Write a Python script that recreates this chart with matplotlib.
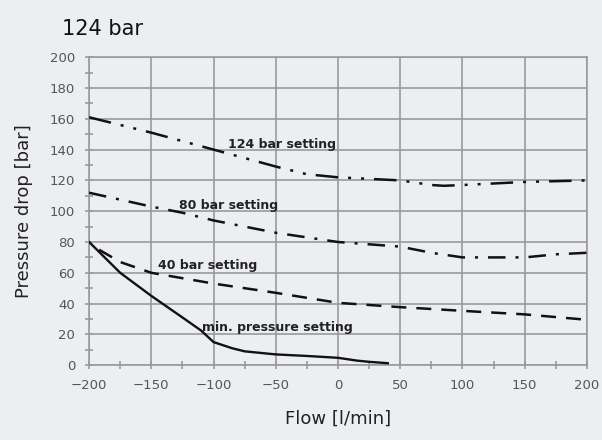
import matplotlib.pyplot as plt
import matplotlib.ticker as mticker

BG     = "#ECEEF1"
GRID_C = "#9A9A9A"
TICK_C = "#555555"
LINE_C = "#111111"

# ── Data ─────────────────────────────────────────────────────────────────────
flow_124 = [-200, -150, -100, -50, -25, 0, 25, 50, 75, 85, 100, 125, 150, 200]
p_124    = [161, 151, 140, 129, 124, 122, 121, 120, 117, 116.5, 117, 118, 119, 120]

flow_80 = [-200, -150, -125, -100, -50, 0, 50, 75, 100, 150, 175, 200]
p_80    = [112, 103, 99, 94, 86, 80, 77, 73, 70, 70, 72, 73]

flow_40 = [-192, -175, -150, -100, -50, 0, 50, 100, 150, 200]
p_40    = [75, 67, 60, 53, 47, 40.5, 37.7, 35.3, 33, 29.5]

flow_min = [-200, -190, -175, -150, -125, -110, -100, -85, -75, -50, -25, 0, 15, 25, 40]
p_min    = [80, 72, 60, 45, 31, 22.5, 15, 11, 9, 7, 6, 4.8, 3, 2.2, 1.3]

labels = ["124 bar setting", "80 bar setting", "40 bar setting", "min. pressure setting"]
label_x = [-88, -128, -145, -109]
label_y = [143.5, 104, 65, 24.7]

# ── Figure ───────────────────────────────────────────────────────────────────
fig = plt.figure(figsize=(6.02, 4.40), dpi=100)
fig.patch.set_facecolor(BG)
ax = fig.add_axes([0.148, 0.170, 0.827, 0.700])
ax.set_facecolor(BG)

ax.plot(flow_124, p_124, color=LINE_C, linewidth=1.8,
        dashes=[9, 4, 1.2, 4, 1.2, 4], zorder=3)
ax.plot(flow_80, p_80, color=LINE_C, linewidth=1.8,
        dashes=[7, 4, 1.2, 4], zorder=3)
ax.plot(flow_40, p_40, color=LINE_C, linewidth=1.8,
        dashes=[6, 4], zorder=3)
ax.plot(flow_min, p_min, color=LINE_C, linewidth=1.7, zorder=3)

for txt, lx, ly in zip(labels, label_x, label_y):
    ax.text(lx, ly, txt, fontsize=9, fontweight='bold', color="#222222",
            ha='left', va='center', zorder=4)

ax.set_xlim(-200, 200)
ax.set_ylim(0, 200)
ax.xaxis.set_major_locator(mticker.MultipleLocator(50))
ax.xaxis.set_minor_locator(mticker.MultipleLocator(25))
ax.yaxis.set_major_locator(mticker.MultipleLocator(20))
ax.yaxis.set_minor_locator(mticker.MultipleLocator(10))

ax.grid(which='major', color=GRID_C, linewidth=1.2, zorder=0)
ax.set_axisbelow(True)
for spine in ax.spines.values():
    spine.set_edgecolor(GRID_C)
    spine.set_linewidth(1.2)

ax.tick_params(which='both', direction='inout', color=GRID_C, width=1.2)
ax.tick_params(which='major', length=6, labelsize=9.5, labelcolor=TICK_C, pad=7)
ax.tick_params(which='minor', length=6)

ax.set_xlabel('Flow [l/min]', fontsize=13, color="#222222", labelpad=13)
ax.set_ylabel('Pressure drop [bar]', fontsize=13, color="#222222", labelpad=12)

fig.text(0.103, 0.935, '124 bar', fontsize=15, color="#111111",
         ha='left', va='center')

plt.savefig('out.png', dpi=100, facecolor=BG)
